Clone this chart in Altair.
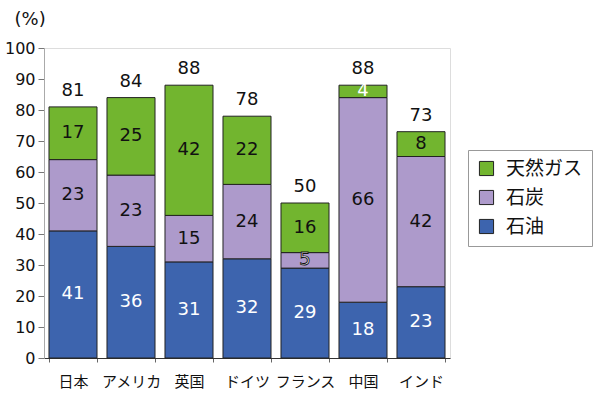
import altair as alt
import pandas as pd

countries = ["日本", "アメリカ", "英国", "ドイツ", "フランス", "中国", "インド"]
oil = [41, 36, 31, 32, 29, 18, 23]
coal = [23, 23, 15, 24, 5, 66, 42]
gas = [17, 25, 42, 22, 16, 4, 8]
totals = [81, 84, 88, 78, 50, 88, 73]
series = ["石油", "石炭", "天然ガス"]
legend_order = ["天然ガス", "石炭", "石油"]
legend_colors = ["#72b52f", "#ad9acb", "#3d64ae"]

rows = []
for i, c in enumerate(countries):
    base = 0
    for j, (s, vals) in enumerate(zip(series, [oil, coal, gas])):
        v = vals[i]
        rows.append({"country": c, "series": s, "value": v, "y0": base, "y1": base + v,
                     "mid": base + v / 2, "ord": j})
        base += v
df = pd.DataFrame(rows)
tot = pd.DataFrame({"country": countries, "total": totals})

FONT = "Noto Sans CJK JP"
NFONT = "DejaVu Sans"
NUM = 18

yscale = alt.Scale(domain=[0, 100])
yaxis = alt.Axis(values=list(range(0, 101, 10)), grid=False, labelFontSize=16,
                 labelOverlap=False, labelFlush=False,
                 labelColor="#111", domainColor="#aaa", tickColor="#777", tickSize=6,
                 labelPadding=3, titleAngle=0, titleAlign="left", titleBaseline="middle",
                 titleX=-30, titleY=-29, titleFontSize=18, titleFontWeight="normal",
                 titleColor="#111", labelFont=NFONT, titleFont=NFONT)

xscale = alt.Scale(paddingInner=0.172, paddingOuter=0.086)
xaxis = alt.Axis(labelAngle=0, labelFontSize=15, labelColor="#111", labelPadding=12,
                 domainColor="#333", tickColor="#666", tickBand="extent", tickSize=4,
                 labelFont=FONT)

def xenc():
    return alt.X("country:N", sort=countries, title=None, scale=xscale, axis=xaxis)

def yenc(field):
    return alt.Y(field, title="(%)", scale=yscale, axis=yaxis)

bars = alt.Chart(df).mark_bar(stroke="#222", strokeWidth=1).encode(
    x=xenc(),
    y=yenc("y0:Q"),
    y2="y1:Q",
    color=alt.Color("series:N", scale=alt.Scale(domain=legend_order, range=legend_colors),
                    legend=alt.Legend(title=None, orient="none", legendX=424, legendY=102,
                                      symbolType="square", symbolSize=200, symbolStrokeColor="#222",
                                      symbolStrokeWidth=1, labelFontSize=19, labelFont=FONT,
                                      labelColor="#111", strokeColor="#999", padding=9,
                                      rowPadding=9, labelOffset=10, symbolOpacity=1,
                                      labelExpr="datum.label + '\u3000'")),
    order="ord:Q",
)

white_mask = (df["series"] == "石油") | ((df["series"] == "天然ガス") & (df["value"] < 5))
outline_mask = (df["series"] == "石炭") & (df["value"] < 6)

def labels(data, **kw):
    return alt.Chart(data).mark_text(fontSize=NUM, font=NFONT, baseline="middle", **kw).encode(
        x=xenc(), y=yenc("mid:Q"), text="value:Q")

lab_dark = labels(df[~white_mask & ~outline_mask], color="#111")
lab_white = labels(df[white_mask], color="white")
lab_out = labels(df[outline_mask], color="white", stroke="#111", strokeWidth=0.9)

lab_tot = alt.Chart(tot).mark_text(fontSize=NUM, font=NFONT, color="#111", baseline="bottom", dy=-7).encode(
    x=xenc(), y=yenc("total:Q"), text="total:Q")

chart = alt.layer(bars, lab_dark, lab_white, lab_out, lab_tot).properties(
    width=406, height=310,
    padding={"left": 44, "top": 48, "right": 150, "bottom": 43},
    autosize=alt.AutoSizeParams(type="none"),
).configure_view(stroke=None).configure(background="white")

chart.save("out.html", embed_options={"renderer": "svg", "actions": False})
